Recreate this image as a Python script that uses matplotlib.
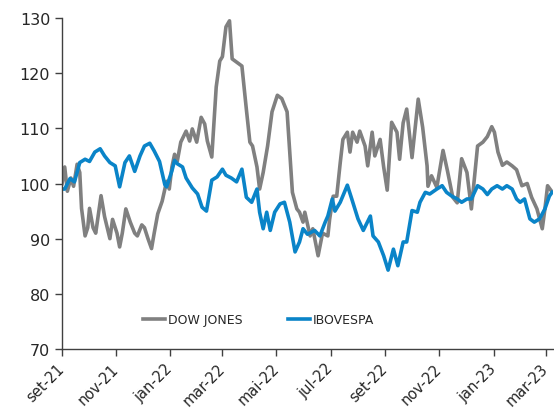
import numpy as np
import pandas as pd
import matplotlib
matplotlib.use('Agg')
import matplotlib.pyplot as plt


# Dow Jones (base 100)
dow_dates = ['2021-09-01', '2021-09-04', '2021-09-07', '2021-09-11', '2021-09-14', '2021-09-18',
             '2021-09-21', '2021-09-23', '2021-09-27', '2021-09-30', '2021-10-02', '2021-10-06',
             '2021-10-09', '2021-10-15', '2021-10-19', '2021-10-25', '2021-10-28', '2021-11-02',
             '2021-11-05', '2021-11-08', '2021-11-12', '2021-11-17', '2021-11-22', '2021-11-25',
             '2021-11-30', '2021-12-03', '2021-12-07', '2021-12-11', '2021-12-14', '2021-12-18',
             '2021-12-23', '2021-12-28', '2021-12-31', '2022-01-03', '2022-01-06', '2022-01-09',
             '2022-01-13', '2022-01-19', '2022-01-23', '2022-01-26', '2022-01-31', '2022-02-05',
             '2022-02-09', '2022-02-12', '2022-02-17', '2022-02-22', '2022-02-26', '2022-03-01',
             '2022-03-05', '2022-03-09', '2022-03-12', '2022-03-17', '2022-03-23', '2022-03-28',
             '2022-04-01', '2022-04-04', '2022-04-09', '2022-04-12', '2022-04-16', '2022-04-21',
             '2022-04-26', '2022-05-02', '2022-05-07', '2022-05-13', '2022-05-16', '2022-05-19',
             '2022-05-24', '2022-05-27', '2022-05-31', '2022-06-02', '2022-06-08', '2022-06-11',
             '2022-06-17', '2022-06-22', '2022-06-28', '2022-06-30', '2022-07-04', '2022-07-08',
             '2022-07-12', '2022-07-15', '2022-07-20', '2022-07-23', '2022-07-26', '2022-07-31',
             '2022-08-03', '2022-08-09', '2022-08-12', '2022-08-17', '2022-08-20', '2022-08-26',
             '2022-08-30', '2022-09-03', '2022-09-08', '2022-09-14', '2022-09-17', '2022-09-21',
             '2022-09-25', '2022-10-01', '2022-10-08', '2022-10-13', '2022-10-18', '2022-10-19',
             '2022-10-23', '2022-10-29', '2022-11-05', '2022-11-10', '2022-11-16', '2022-11-21',
             '2022-11-26', '2022-12-02', '2022-12-07', '2022-12-14', '2022-12-20', '2022-12-25',
             '2022-12-30', '2023-01-02', '2023-01-06', '2023-01-11', '2023-01-16', '2023-01-22',
             '2023-01-27', '2023-02-02', '2023-02-08', '2023-02-13', '2023-02-19', '2023-02-25',
             '2023-02-28', '2023-03-03', '2023-03-08']
dow_values = [100, 103, 98.6, 101, 99.5, 103.5,
              102, 95.5, 90.5, 92, 95.5, 92,
              91, 97.8, 94, 90, 93.5, 91,
              88.5, 91, 95.4, 93, 91, 90.5,
              92.5, 92, 90, 88.2, 91, 94.5,
              96.8, 100.4, 99, 103, 105.3, 104,
              107.5, 109.5, 107.7, 109.9, 107.5, 112,
              110.8, 107.7, 104.8, 117.5, 122.2, 123,
              128.4, 129.5, 122.6, 122, 121.3, 113.5,
              107.5, 106.8, 103, 99, 102, 106.8,
              113, 116, 115.4, 113, 105.7, 98.4,
              95.4, 94.8, 93, 94.8, 90.5, 91.8,
              86.9, 91, 90.5, 93.5, 97.7, 97.7,
              103.8, 108, 109.3, 105.7, 109.3, 107.5,
              109.5, 106.8, 103.2, 109.3, 105, 108,
              103, 98.8, 111.1, 109.3, 104.4, 111,
              113.5, 104.7, 115.3, 110.2, 103.2, 99.5,
              101.4, 99.3, 106, 102.3, 97.5, 96.5,
              104.5, 102, 95.4, 106.8, 107.5, 108.5,
              110.3, 109.3, 105.7, 103.3, 103.9, 103.2,
              102.5, 99.6, 100, 97.5, 95.4, 91.8,
              95.4, 99.6, 98.5]

# Ibovespa (base 100)
ibov_dates = ['2021-09-01', '2021-09-04', '2021-09-10', '2021-09-15', '2021-09-21', '2021-09-27',
              '2021-10-02', '2021-10-08', '2021-10-14', '2021-10-19', '2021-10-25', '2021-10-31',
              '2021-11-05', '2021-11-11', '2021-11-16', '2021-11-22', '2021-11-28', '2021-12-03',
              '2021-12-09', '2021-12-14', '2021-12-20', '2021-12-26', '2021-12-28', '2022-01-03',
              '2022-01-06', '2022-01-09', '2022-01-15', '2022-01-19', '2022-01-26', '2022-02-01',
              '2022-02-06', '2022-02-11', '2022-02-17', '2022-02-23', '2022-03-01', '2022-03-05',
              '2022-03-11', '2022-03-17', '2022-03-23', '2022-03-28', '2022-04-03', '2022-04-09',
              '2022-04-12', '2022-04-16', '2022-04-20', '2022-04-24', '2022-04-29', '2022-05-05',
              '2022-05-10', '2022-05-16', '2022-05-22', '2022-05-27', '2022-05-31', '2022-06-05',
              '2022-06-13', '2022-06-19', '2022-06-25', '2022-06-28', '2022-07-03', '2022-07-06',
              '2022-07-12', '2022-07-20', '2022-07-25', '2022-08-01', '2022-08-07', '2022-08-15',
              '2022-08-18', '2022-08-24', '2022-08-30', '2022-09-04', '2022-09-10', '2022-09-15',
              '2022-09-21', '2022-09-25', '2022-10-01', '2022-10-07', '2022-10-10', '2022-10-16',
              '2022-10-21', '2022-10-29', '2022-11-04', '2022-11-09', '2022-11-15', '2022-11-21',
              '2022-11-26', '2022-12-02', '2022-12-07', '2022-12-14', '2022-12-20', '2022-12-25',
              '2022-12-30', '2023-01-05', '2023-01-11', '2023-01-16', '2023-01-22', '2023-01-27',
              '2023-01-31', '2023-02-05', '2023-02-11', '2023-02-16', '2023-02-22', '2023-02-28',
              '2023-03-05', '2023-03-08']
ibov_values = [99, 99, 100.9, 100.3, 103.8, 104.4,
               104, 105.7, 106.3, 105, 103.8, 103.2,
               99.4, 103.8, 105, 102.2, 105, 106.8,
               107.3, 105.9, 104, 99.8, 99.4, 102.3,
               104.2, 103.6, 103, 101, 99.2, 98.1,
               95.7, 95, 100.6, 101.2, 102.6, 101.5,
               101, 100.3, 102.6, 97.5, 96.6, 99,
               94.8, 91.8, 94.8, 91.5, 94.8, 96.3,
               96.6, 93, 87.6, 89.4, 91.8, 90.8,
               91.5, 90.5, 93, 94.1, 97.2, 95,
               96.6, 99.7, 97.2, 93.6, 91.5, 94.1,
               90.5, 89.4, 86.9, 84.3, 88.1, 85.1,
               89.4, 89.4, 95.1, 94.8, 96.6, 98.4,
               98.1, 99, 99.6, 98.4, 97.7, 97.2,
               96.6, 97.2, 97.2, 99.6, 99, 98,
               99, 99.6, 99, 99.6, 99, 97.2,
               96.6, 97.2, 93.6, 93, 93.6, 95.4,
               97.7, 98.4]

tick_dates = ['2021-09-01', '2021-11-01', '2022-01-01', '2022-03-01', '2022-05-01',
              '2022-07-01', '2022-09-01', '2022-11-01', '2023-01-01', '2023-03-01']
tick_labels = ['set-21', 'nov-21', 'jan-22', 'mar-22', 'mai-22',
               'jul-22', 'set-22', 'nov-22', 'jan-23', 'mar-23']

txt = '#262626'

fig = plt.figure(figsize=(5.54, 4.14), dpi=100)
ax = fig.add_axes([0.112, 0.1546, 0.886, 0.7994])

ax.plot(pd.to_datetime(dow_dates), dow_values, color='#808080', lw=2.6,
        label='DOW JONES', solid_joinstyle='round')
ax.plot(pd.to_datetime(ibov_dates), ibov_values, color='#0A84C8', lw=2.6,
        label='IBOVESPA', solid_joinstyle='round')

ax.set_ylim(70, 130)
ax.set_yticks(np.arange(70, 131, 10))
ax.set_xlim(pd.Timestamp('2021-09-01'), pd.Timestamp('2023-03-09'))
ax.set_xticks(pd.to_datetime(tick_dates))
ax.set_xticklabels(tick_labels, rotation=45, ha='right', va='center',
                   rotation_mode='anchor')

for s in ['top', 'right']:
    ax.spines[s].set_visible(False)
for s in ['left', 'bottom']:
    ax.spines[s].set_color('#404040')
    ax.spines[s].set_linewidth(1.0)

ax.tick_params(axis='both', direction='out', length=5, width=1, color='#404040',
               labelsize=11.5, labelcolor=txt)
ax.tick_params(axis='x', labelsize=10.5, pad=7)

ax.legend(loc='center', bbox_to_anchor=(0.40, 0.088), ncol=2, frameon=False,
          fontsize=9, handlelength=1.8, handletextpad=0.2, columnspacing=3.6,
          labelcolor=txt)

fig.savefig('out.png', dpi=100)
